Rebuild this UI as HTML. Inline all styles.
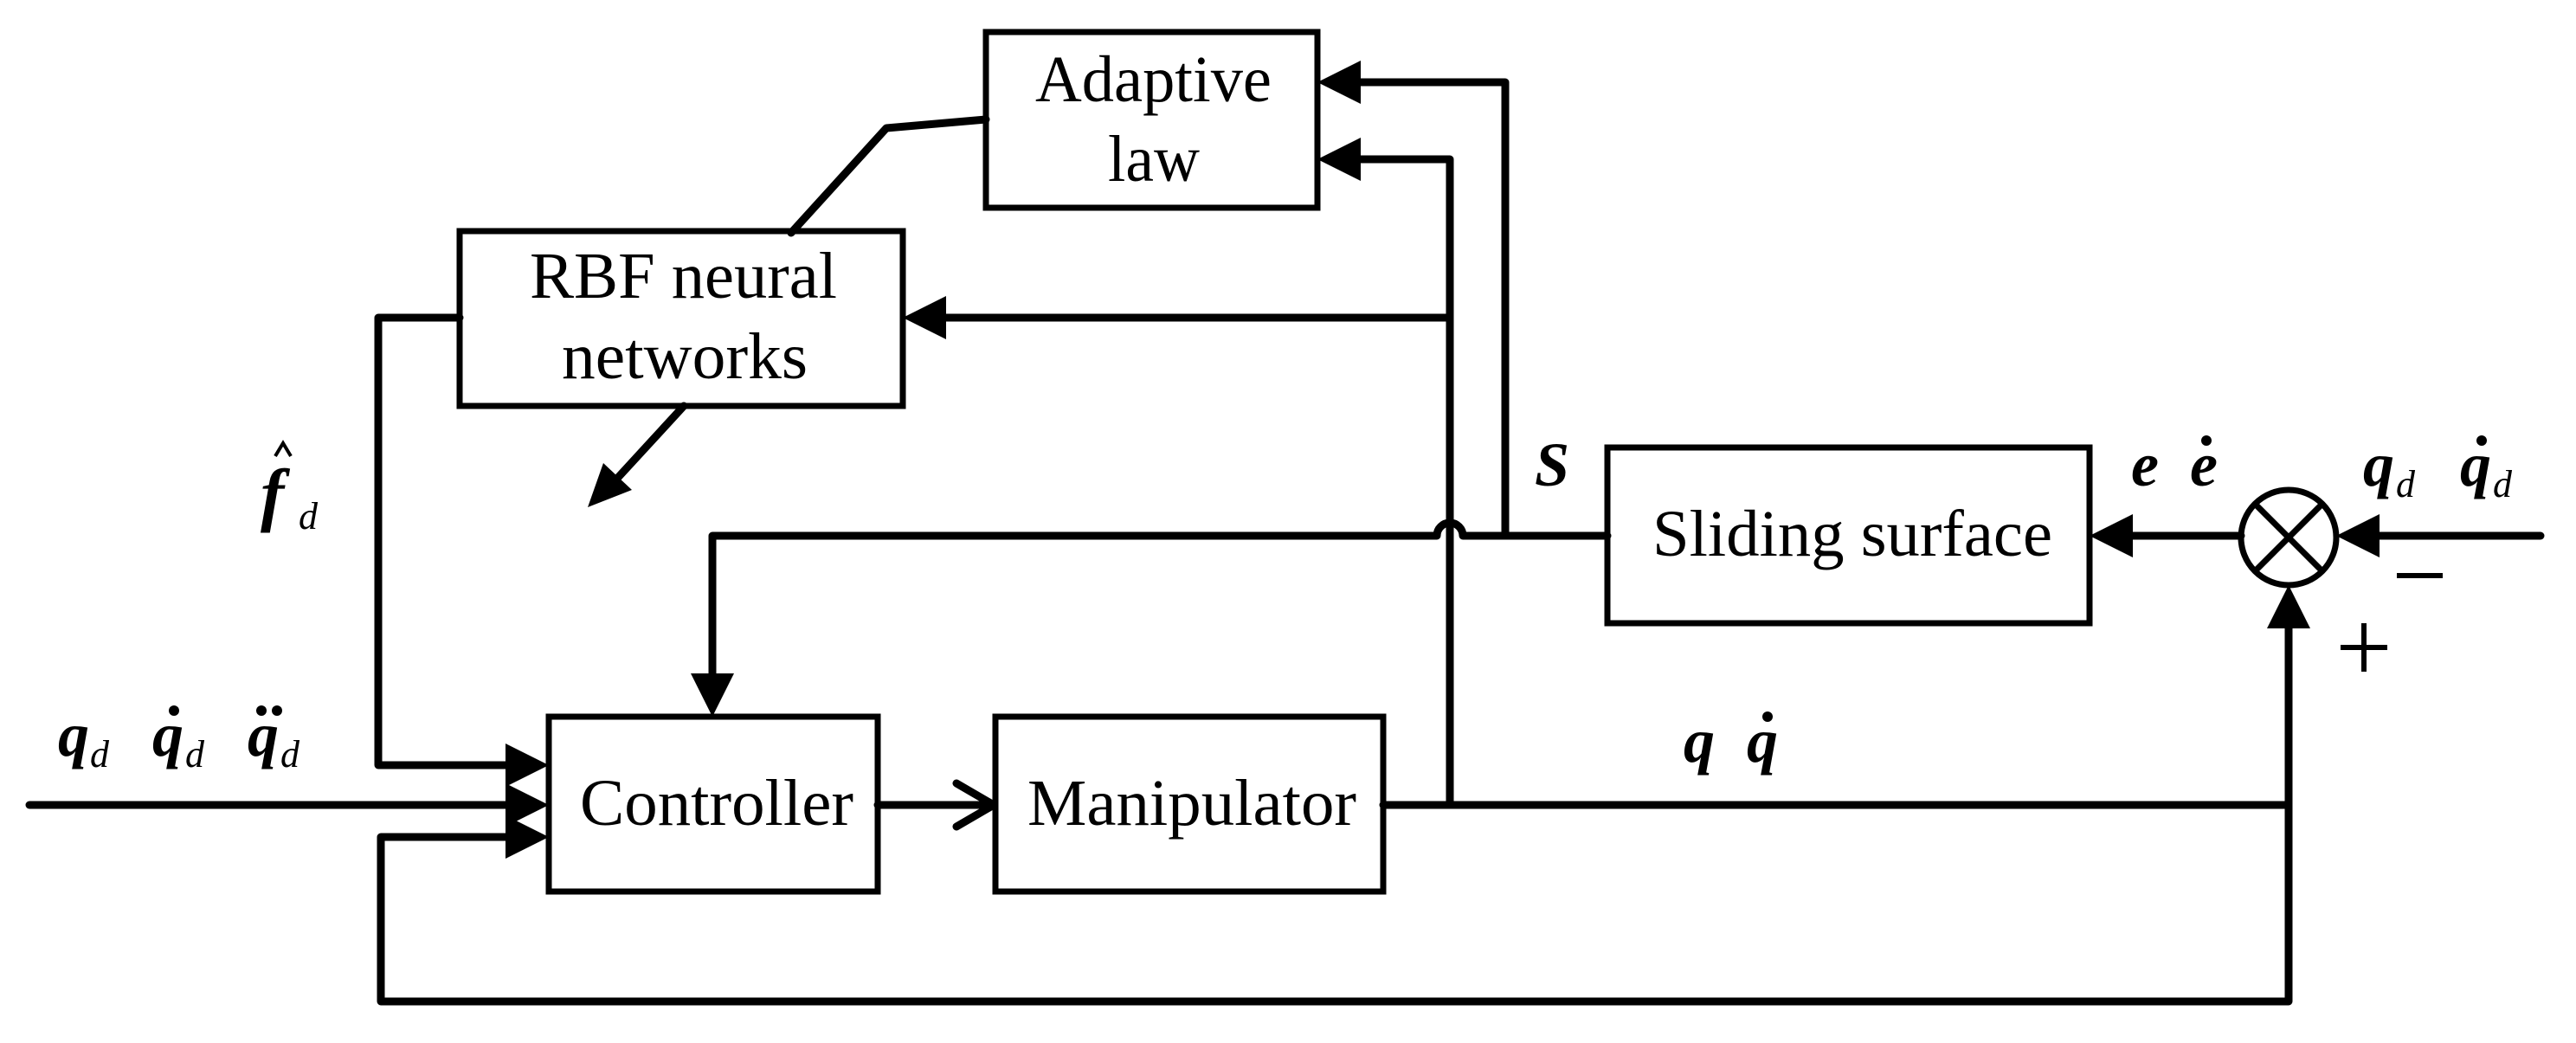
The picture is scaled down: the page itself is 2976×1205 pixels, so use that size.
<!DOCTYPE html>
<html><head><meta charset="utf-8"><style>
html,body{margin:0;padding:0;background:#fff;}
svg{display:block;}
text{font-family:"Liberation Serif",serif;fill:#000;}
.m{font-style:italic;font-weight:bold;}
</style></head><body>
<svg width="2976" height="1205" viewBox="0 0 2976 1205" xmlns="http://www.w3.org/2000/svg">
<g fill="none" stroke="#000" stroke-width="7">
<rect x="1139" y="37" width="383" height="203"/>
<rect x="531" y="267" width="512" height="202"/>
<rect x="634" y="828" width="380" height="202"/>
<rect x="1150" y="828" width="448" height="202"/>
<rect x="1857" y="517" width="557" height="203"/>
<circle cx="2644" cy="621" r="55"/>
<line x1="2605" y1="582" x2="2683" y2="660"/>
<line x1="2683" y1="582" x2="2605" y2="660"/>
</g>
<g fill="none" stroke="#000" stroke-width="9" stroke-linecap="round" stroke-linejoin="round">
<line x1="34" y1="930" x2="600" y2="930"/>
<polyline points="531,367 437,367 437,884 600,884"/>
<polyline points="600,967 440,967 440,1157 2644,1157 2644,726"/>
<line x1="1014" y1="930" x2="1148" y2="930"/>
<polyline points="1105,905 1148,930 1105,955"/>
<line x1="1598" y1="930" x2="2644" y2="930"/>
<polyline points="1675,930 1675,184 1565,184"/>
<line x1="1675" y1="367" x2="1090" y2="367"/>
<polyline points="1739,619 1739,95 1565,95"/>
<path d="M1857,619 L1690,619 A15,15 0 0 0 1660,619 L823,619 L823,780"/>
<polyline points="1139,138 1024,148 914,269"/>
<line x1="790" y1="469" x2="710" y2="556"/>
<line x1="2589" y1="619" x2="2460" y2="619"/>
<line x1="2935" y1="619" x2="2745" y2="619"/>
</g>
<g fill="#000" stroke="none">
<polygon points="634,884 584,859 584,909"/>
<polygon points="634,930 584,905 584,955"/>
<polygon points="634,967 584,942 584,992"/>
<polygon points="1043,367 1093,342 1093,392"/>
<polygon points="1522,95 1572,70 1572,120"/>
<polygon points="1522,184 1572,159 1572,209"/>
<polygon points="823,828 798,778 848,778"/>
<polygon points="2414,619 2464,594 2464,644"/>
<polygon points="2699,619 2749,594 2749,644"/>
<polygon points="2644,676 2619,726 2669,726"/>
<polygon points="679,586 697,535 730,566"/>
<rect x="2769" y="662" width="53" height="6"/>
<rect x="2704" y="745" width="54" height="6"/>
<rect x="2728" y="720" width="6" height="56"/>
</g>
<g font-size="76">
<text x="1196" y="117" textLength="273" lengthAdjust="spacingAndGlyphs">Adaptive</text>
<text x="1280" y="209" textLength="106" lengthAdjust="spacingAndGlyphs">law</text>
<text x="612" y="344" textLength="355" lengthAdjust="spacingAndGlyphs">RBF neural</text>
<text x="649" y="437" textLength="284" lengthAdjust="spacingAndGlyphs">networks</text>
<text x="670" y="953" textLength="316" lengthAdjust="spacingAndGlyphs">Controller</text>
<text x="1187" y="953" textLength="380" lengthAdjust="spacingAndGlyphs">Manipulator</text>
<text x="1909" y="642" textLength="462" lengthAdjust="spacingAndGlyphs">Sliding surface</text>
</g>
<g font-size="72">
<text class="m" x="1773" y="561">S</text>
<text class="m" x="2462" y="561">e</text>
<text class="m" x="2530" y="561">e</text>
<circle cx="2549" cy="509" r="6"/>
<text class="m" x="2730" y="561">q</text>
<text x="2768" y="574" font-size="44" font-style="italic">d</text>
<text class="m" x="2842" y="561">q</text>
<circle cx="2867" cy="509" r="6"/>
<text x="2880" y="574" font-size="44" font-style="italic">d</text>
<text class="m" x="1945" y="880">q</text>
<text class="m" x="2018" y="880">q</text>
<circle cx="2042" cy="828" r="6"/>
<text class="m" x="67" y="873">q</text>
<text x="104" y="886" font-size="44" font-style="italic">d</text>
<text class="m" x="176" y="873">q</text>
<circle cx="201" cy="821" r="6"/>
<text x="214" y="886" font-size="44" font-style="italic">d</text>
<text class="m" x="286" y="873">q</text>
<circle cx="302" cy="821" r="6"/>
<circle cx="320" cy="821" r="6"/>
<text x="324" y="886" font-size="44" font-style="italic">d</text>
<text class="m" x="301" y="598" font-size="82">f</text>
<text x="345" y="611" font-size="44" font-style="italic">d</text>
<polyline points="318,527 327,512 336,527" fill="none" stroke="#000" stroke-width="4"/>
</g>
</svg>
</body></html>
